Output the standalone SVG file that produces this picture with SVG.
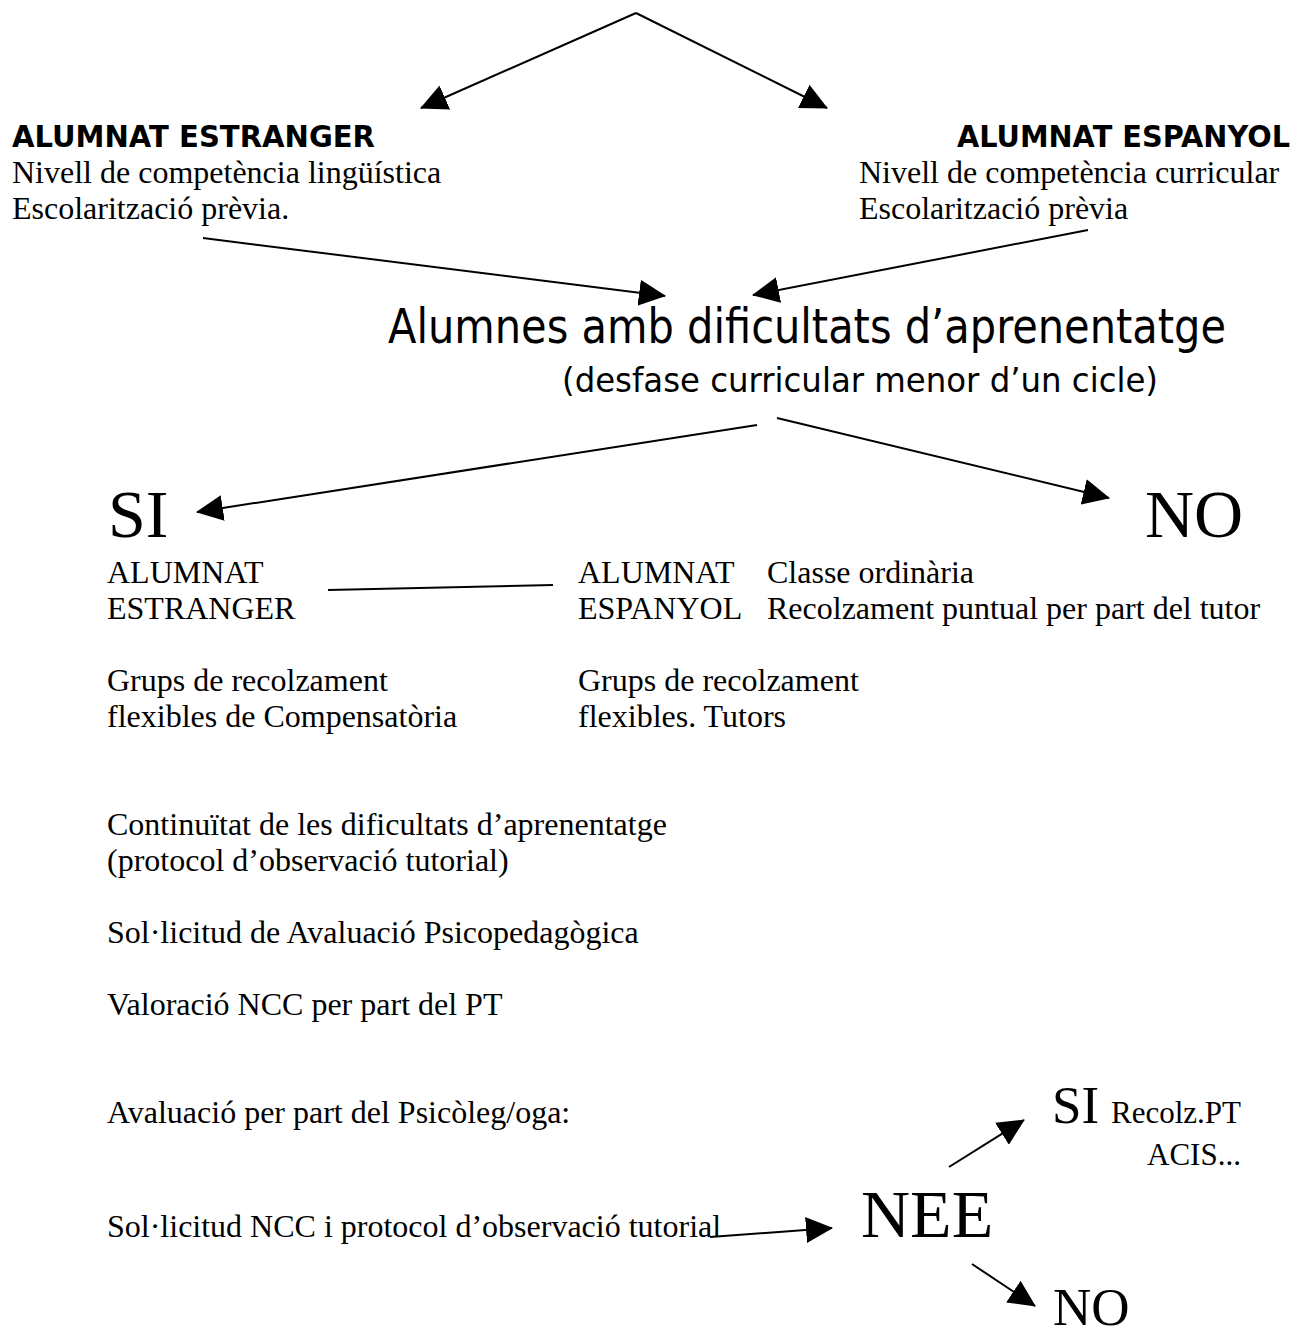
<svg xmlns="http://www.w3.org/2000/svg" width="1315" height="1338" viewBox="0 0 1315 1338">
<defs>
<marker id="ah" markerUnits="userSpaceOnUse" markerWidth="28" markerHeight="27" refX="26" refY="13" orient="auto" viewBox="0 0 28 26"><path d="M0,0 L27,13 L0,26 z" fill="#000"/></marker>
<style>
.t{font-family:"Liberation Serif","Times New Roman",serif;font-size:32px;fill:#000}
.h{font-family:"DejaVu Sans",Tahoma,sans-serif;font-weight:bold;font-size:30px;fill:#000}
.c{font-family:"DejaVu Sans Condensed","DejaVu Sans",sans-serif;fill:#000}
.big{font-size:68px}
.mid{font-size:53px}
.ln{stroke:#000;stroke-width:2;fill:none}
.ar{marker-end:url(#ah)}
</style>
</defs>
<rect width="1315" height="1338" fill="#fff"/>
<g id="connectors">
<line class="ln ar" x1="636" y1="13" x2="421" y2="108"/>
<line class="ln ar" x1="636" y1="13" x2="827" y2="108"/>
<line class="ln ar" x1="203" y1="238" x2="665" y2="296"/>
<line class="ln ar" x1="1088" y1="230" x2="753" y2="295"/>
<line class="ln ar" x1="757" y1="425" x2="197" y2="512"/>
<line class="ln ar" x1="777" y1="418" x2="1109" y2="498"/>
<line class="ln" x1="328" y1="590" x2="553" y2="585"/>
<line class="ln ar" x1="710" y1="1237" x2="832" y2="1228"/>
<line class="ln ar" x1="949" y1="1167" x2="1024" y2="1120"/>
<line class="ln ar" x1="972" y1="1264" x2="1035" y2="1306"/>
</g>
<g id="estranger">
<text class="h" x="12" y="147" textLength="363" lengthAdjust="spacingAndGlyphs">ALUMNAT ESTRANGER</text>
<text class="t" x="12" y="183">Nivell de competència lingüística</text>
<text class="t" x="12" y="219">Escolarització prèvia.</text>
</g>
<g id="espanyol">
<text class="h" x="957" y="147" textLength="333" lengthAdjust="spacingAndGlyphs">ALUMNAT ESPANYOL</text>
<text class="t" x="859" y="183">Nivell de competència curricular</text>
<text class="t" x="859" y="219">Escolarització prèvia</text>
</g>
<g id="dificultats">
<text class="c" x="388" y="343" font-size="48" textLength="838" lengthAdjust="spacingAndGlyphs">Alumnes amb dificultats d’aprenentatge</text>
<text class="c" x="562" y="392" font-size="33" textLength="596" lengthAdjust="spacingAndGlyphs">(desfase curricular menor d’un cicle)</text>
</g>
<g id="si">
<text class="t big" x="108" y="537">SI</text>
</g>
<g id="no">
<text class="t big" x="1145" y="537">NO</text>
</g>
<g id="si-estranger">
<text class="t" x="107" y="583">ALUMNAT</text>
<text class="t" x="107" y="619">ESTRANGER</text>
<text class="t" x="107" y="691">Grups de recolzament</text>
<text class="t" x="107" y="727">flexibles de Compensatòria</text>
</g>
<g id="si-espanyol">
<text class="t" x="578" y="583">ALUMNAT</text>
<text class="t" x="578" y="619">ESPANYOL</text>
<text class="t" x="578" y="691">Grups de recolzament</text>
<text class="t" x="578" y="727">flexibles. Tutors</text>
</g>
<g id="no-text">
<text class="t" x="767" y="583">Classe ordinària</text>
<text class="t" x="767" y="619">Recolzament puntual per part del tutor</text>
</g>
<g id="procediment">
<text class="t" x="107" y="835">Continuïtat de les dificultats d’aprenentatge</text>
<text class="t" x="107" y="871">(protocol d’observació tutorial)</text>
<text class="t" x="107" y="943">Sol·licitud de Avaluació Psicopedagògica</text>
<text class="t" x="107" y="1015">Valoració NCC per part del PT</text>
<text class="t" x="107" y="1123">Avaluació per part del Psicòleg/oga:</text>
<text class="t" x="107" y="1237">Sol·licitud NCC i protocol d’observació tutorial</text>
</g>
<g id="nee">
<text class="t big" x="861" y="1237">NEE</text>
</g>
<g id="nee-si">
<text class="t mid" x="1052" y="1123">SI</text>
<text class="t" x="1111" y="1123" style="font-size:31px">Recolz.PT</text>
<text class="t" x="1147" y="1165" style="font-size:31px">ACIS...</text>
</g>
<g id="nee-no">
<text class="t mid" x="1053" y="1325">NO</text>
</g>
</svg>
